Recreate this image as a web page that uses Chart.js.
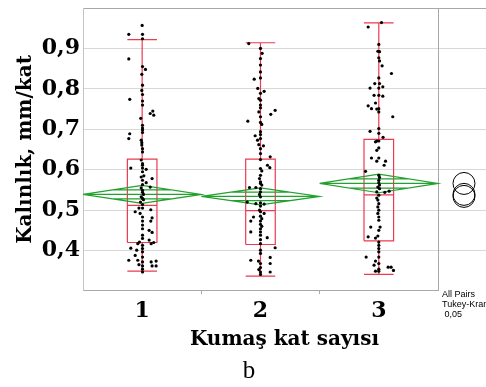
<!DOCTYPE html>
<html>
<head>
<meta charset="utf-8">
<script src="https://cdn.jsdelivr.net/npm/chart.js@4.4.1/dist/chart.umd.min.js"></script>
<style>
  html, body { margin: 0; padding: 0; background: #fff; overflow: hidden; }
  #wrap { position: relative; width: 486px; height: 387px; }
  #note { position: absolute; left: 442px; top: 289px; font: 9px 'Liberation Sans Narrow', sans-serif; line-height: 10px; white-space: nowrap; color: #000; }
  #cap { position: absolute; left: 0; width: 498px; top: 356px; text-align: center; font: 25px 'Liberation Serif', serif; color: #000; }
</style>
</head>
<body>
<div id="wrap">
  <canvas id="chart" width="486" height="387"></canvas>
  <div id="note">All Pairs<br>Tukey-Kramer<br>&nbsp;0,05</div>
  <div id="cap">b</div>
</div>
<script>
// categories (Kumaş kat sayısı)
const categories = ['1', '2', '3'];

// individual measurements: [jitter, value]
const kat1Points = [
  [0, 0.957], [-0.113, 0.935], [0.003, 0.935], [0.003, 0.924], [-0.113, 0.874], [0.003, 0.855], [0.028, 0.848],
  [-0.003, 0.836], [0.003, 0.809], [-0.003, 0.796], [0.003, 0.786], [-0.105, 0.774], [0.003, 0.770], [0.003, 0.760],
  [0.09, 0.745], [0.068, 0.739], [0.098, 0.735], [-0.012, 0.727], [0.003, 0.710], [0.003, 0.703], [0.003, 0.698],
  [0.003, 0.692], [-0.105, 0.689], [-0.113, 0.677], [-0.008, 0.673], [-0.003, 0.667], [-0.003, 0.661], [0.003, 0.652],
  [0.003, 0.644], [-0.008, 0.624], [0.003, 0.615], [0.003, 0.611], [-0.096, 0.604], [0.003, 0.604], [0.034, 0.601],
  [0.003, 0.595], [-0.008, 0.582], [0.014, 0.585], [0.084, 0.578], [0.003, 0.574], [0.034, 0.568], [0.003, 0.563],
  [-0.008, 0.555], [0.068, 0.557], [0.003, 0.549], [0.003, 0.544], [0.011, 0.539], [-0.008, 0.533], [0.003, 0.529],
  [0.011, 0.526], [-0.014, 0.520], [0.003, 0.514], [-0.027, 0.505], [0.003, 0.505], [-0.059, 0.496], [-0.017, 0.492],
  [0.073, 0.501], [0.084, 0.481], [0.003, 0.483], [0.003, 0.473], [0.073, 0.473], [0.003, 0.463], [0.003, 0.454],
  [0.059, 0.450], [0.084, 0.445], [0.003, 0.438], [0.003, 0.430], [0.059, 0.426], [0.076, 0.417], [-0.023, 0.421],
  [0.098, 0.420], [0.003, 0.413], [-0.037, 0.417], [0.003, 0.405], [-0.046, 0.401], [-0.096, 0.406], [0.003, 0.397],
  [-0.059, 0.388], [0.003, 0.384], [-0.113, 0.376], [-0.037, 0.376], [0.003, 0.372], [0.076, 0.372], [-0.027, 0.365],
  [0.003, 0.362], [0.118, 0.374], [0.084, 0.362], [0.118, 0.362], [0.003, 0.354], [0.003, 0.347]
];
const kat2Points = [
  [-0.099, 0.912], [0, 0.900], [0.014, 0.888], [0, 0.875], [0, 0.859], [0, 0.842], [-0.053, 0.824], [0, 0.827],
  [-0.023, 0.801], [0.031, 0.794], [0, 0.789], [-0.014, 0.776], [0, 0.772], [0, 0.760], [0, 0.753], [0.124, 0.747],
  [-0.014, 0.743], [0.087, 0.737], [0, 0.731], [-0.107, 0.720], [0, 0.717], [0.011, 0.712], [0, 0.694], [0, 0.687],
  [-0.045, 0.684], [-0.025, 0.673], [0, 0.677], [-0.014, 0.662], [0.025, 0.659], [0, 0.652],
  [0, 0.640], [0.082, 0.632], [0, 0.625], [0.059, 0.611], [0.079, 0.605], [0, 0.603], [0.011, 0.597], [0, 0.586],
  [-0.008, 0.578], [0, 0.570], [0, 0.566], [0.011, 0.562], [-0.093, 0.556], [-0.039, 0.556], [0, 0.553], [0, 0.545],
  [-0.008, 0.539], [0, 0.533], [-0.112, 0.520], [-0.039, 0.516], [0, 0.518], [0.031, 0.515], [0, 0.510], [-0.008, 0.500],
  [0, 0.496], [0.031, 0.492], [-0.059, 0.483], [0, 0.485], [0.011, 0.479], [0, 0.473], [-0.082, 0.473], [0, 0.465],
  [0.011, 0.460], [0, 0.454], [-0.082, 0.446], [0, 0.446], [0, 0.438], [0.057, 0.432], [0, 0.427], [0, 0.417],
  [0.124, 0.407], [0, 0.401], [0, 0.393], [0.082, 0.383], [-0.082, 0.376], [-0.017, 0.374], [0, 0.368], [0.082, 0.368],
  [0, 0.358], [-0.014, 0.353], [0.082, 0.347], [0, 0.347], [0, 0.341]
];
const kat3Points = [
  [0.023, 0.964], [-0.09, 0.953], [0, 0.910], [-0.008, 0.893], [0.006, 0.892], [0, 0.877], [0.006, 0.869], [0.028, 0.857],
  [0.107, 0.838], [0, 0.827], [-0.034, 0.813], [0.006, 0.813], [-0.074, 0.802], [0, 0.802], [0.034, 0.805], [-0.04, 0.784],
  [0, 0.784], [0.034, 0.782], [-0.028, 0.765], [-0.09, 0.758], [-0.062, 0.751], [-0.017, 0.750], [0, 0.751], [0, 0.743],
  [0.118, 0.731], [-0.074, 0.695], [0, 0.702], [0, 0.690], [0.036, 0.680], [-0.017, 0.671], [0, 0.671], [-0.028, 0.669],
  [0, 0.654], [-0.017, 0.648], [-0.062, 0.629], [0, 0.629], [-0.017, 0.621], [0.057, 0.621], [0.045, 0.611], [-0.112, 0.596],
  [0, 0.586], [0.006, 0.581], [0, 0.574], [0, 0.568], [0.006, 0.562], [-0.008, 0.557], [0.006, 0.553], [0.087, 0.547],
  [0.051, 0.544], [-0.017, 0.545], [0, 0.537], [-0.017, 0.530], [-0.008, 0.525], [0, 0.516], [-0.008, 0.508], [0, 0.500],
  [-0.008, 0.492], [0, 0.483], [0, 0.475], [-0.068, 0.458], [0.011, 0.458], [0, 0.450], [-0.09, 0.434], [-0.028, 0.431],
  [-0.008, 0.436], [0, 0.421], [0, 0.413], [0, 0.405], [0, 0.397], [-0.107, 0.384], [0, 0.384], [-0.028, 0.374],
  [0, 0.368], [0.079, 0.359], [-0.04, 0.364], [0.104, 0.359], [0, 0.354], [-0.028, 0.349], [0.124, 0.351], [0, 0.349]
];

// box plot summaries
const boxQ1 = [0.420, 0.415, 0.424];
const boxMedian = [0.512, 0.499, 0.538];
const boxQ3 = [0.626, 0.626, 0.675];
const whiskerLow = [0.349, 0.337, 0.341];
const whiskerHigh = [0.922, 0.914, 0.963];

// means diamonds
const groupMeans = [0.539, 0.534, 0.566];
const diamondHalf = [0.022, 0.021, 0.023];
const overlapOffset = [0.011, 0.0105, 0.0115];

const yTickLabels = ['0,4', '0,5', '0,6', '0,7', '0,8', '0,9'];

const GAP = v => ({ x: v, y: null });

function boxPath() {
  const pts = [];
  const hw = 0.125;
  categories.forEach((c, i) => {
    const x = i + 1;
    pts.push({ x: x - hw, y: boxQ1[i] }, { x: x + hw, y: boxQ1[i] }, { x: x + hw, y: boxQ3[i] },
             { x: x - hw, y: boxQ3[i] }, { x: x - hw, y: boxQ1[i] }, GAP(x));
    pts.push({ x: x - hw, y: boxMedian[i] }, { x: x + hw, y: boxMedian[i] }, GAP(x));
    pts.push({ x: x, y: boxQ3[i] }, { x: x, y: whiskerHigh[i] }, GAP(x));
    pts.push({ x: x - hw, y: whiskerHigh[i] }, { x: x + hw, y: whiskerHigh[i] }, GAP(x));
    pts.push({ x: x, y: boxQ1[i] }, { x: x, y: whiskerLow[i] }, GAP(x));
    pts.push({ x: x - hw, y: whiskerLow[i] }, { x: x + hw, y: whiskerLow[i] }, GAP(x));
  });
  return pts;
}

function diamondPath() {
  const pts = [];
  categories.forEach((c, i) => {
    const x = i + 1, m = groupMeans[i], h = diamondHalf[i], o = overlapOffset[i];
    const w = 0.5 * (1 - o / h);
    pts.push({ x: x - 0.5, y: m }, { x: x, y: m + h }, { x: x + 0.5, y: m }, { x: x, y: m - h },
             { x: x - 0.5, y: m }, { x: x + 0.5, y: m }, GAP(x));
    pts.push({ x: x - w, y: m + o }, { x: x + w, y: m + o }, GAP(x));
    pts.push({ x: x - w, y: m - o }, { x: x + w, y: m - o }, GAP(x));
  });
  return pts;
}

const allPoints = [kat1Points, kat2Points, kat3Points]
  .flatMap((arr, i) => arr.map(p => ({ x: i + 1 + p[0], y: p[1] })));

const framePlugin = {
  id: 'frame',
  beforeDatasetsDraw(chart) {
    const { ctx, chartArea: a, scales: { x } } = chart;
    const sep = Math.round(x.getPixelForValue(3.5)) + 0.5;
    const x0 = Math.round(x.getPixelForValue(0.5)) + 0.5;
    ctx.save();
    ctx.lineWidth = 1;
    ctx.strokeStyle = '#a8a8a8';
    ctx.beginPath();
    ctx.moveTo(x0, a.top + 0.5); ctx.lineTo(a.right, a.top + 0.5);
    ctx.moveTo(sep, a.top); ctx.lineTo(sep, a.bottom);
    ctx.moveTo(x0, a.bottom - 0.5); ctx.lineTo(sep, a.bottom - 0.5);
    ctx.stroke();
    ctx.strokeStyle = '#c4c4c4';
    ctx.beginPath();
    ctx.moveTo(x0, a.top); ctx.lineTo(x0, a.bottom);
    ctx.stroke();
    ctx.restore();
  }
};

new Chart(document.getElementById('chart'), {
  type: 'scatter',
  data: {
    datasets: [
      {
        data: allPoints, order: 0,
        pointRadius: 1.6, pointBackgroundColor: '#000', pointBorderWidth: 0, showLine: false
      },
      {
        data: diamondPath(), order: 1, showLine: true, spanGaps: false,
        borderColor: '#22a12e', borderWidth: 1.2, pointRadius: 0, fill: false
      },
      {
        data: boxPath(), order: 2, showLine: true, spanGaps: false,
        borderColor: '#ec3a52', borderWidth: 1.2, pointRadius: 0, fill: false
      },
      {
        data: groupMeans.map(m => ({ x: 3.72, y: m })), order: 3, showLine: false,
        pointRadius: 11, pointBackgroundColor: 'rgba(0,0,0,0)', pointBorderColor: '#000', pointBorderWidth: 1
      }
    ]
  },
  options: {
    responsive: false,
    animation: false,
    layout: { autoPadding: false, padding: { left: 0, right: 0, top: 8, bottom: 35 } },
    plugins: { legend: { display: false }, tooltip: { enabled: false } },
    scales: {
      x: {
        type: 'linear', min: 0.5, max: 3.906,
        afterBuildTicks: s => { s.ticks = [1, 1.5, 2, 2.5, 3].map(v => ({ value: v })); },
        afterFit: s => { s.height = 61; s.paddingLeft = 0; s.paddingRight = 0; },
        border: { display: false },
        grid: {
          drawOnChartArea: false, drawTicks: true, tickLength: 3,
          color: c => Number.isInteger(c.tick.value) ? 'rgba(0,0,0,0)' : '#a8a8a8'
        },
        ticks: {
          autoSkip: false, maxRotation: 0, padding: 4, color: '#000',
          font: { family: 'DejaVu Serif', weight: 'bold', size: 22 },
          callback: v => Number.isInteger(v) ? categories[v - 1] : ''
        },
        title: {
          display: true, text: 'Kumaş kat sayısı', color: '#000',
          font: { family: 'DejaVu Serif', weight: 'bold', size: 20 },
          padding: { top: 0, bottom: 0 }
        }
      },
      y: {
        min: 0.3, max: 1.0,
        afterFit: s => { s.width = 83; s.paddingTop = 0; s.paddingBottom = 0; },
        border: { display: false },
        grid: {
          drawTicks: false,
          color: c => {
            const r = Math.round(c.tick.value * 100);
            if (r <= 30 || r >= 100) return 'rgba(0,0,0,0)';
            return r % 10 === 0 ? '#d8d8d8' : '#eeeeee';
          }
        },
        ticks: {
          stepSize: 0.05, padding: 3, color: '#000',
          font: { family: 'DejaVu Serif', weight: 'bold', size: 22 },
          callback: v => {
            const r = Math.round(v * 100);
            return r % 10 === 0 && r >= 40 && r <= 90 ? yTickLabels[r / 10 - 4] : '';
          }
        },
        title: {
          display: true, text: 'Kalınlık, mm/kat', color: '#000',
          font: { family: 'DejaVu Serif', weight: 'bold', size: 20 },
          padding: { top: 14, bottom: 0 }
        }
      }
    }
  },
  plugins: [framePlugin]
});
</script>
</body>
</html>
